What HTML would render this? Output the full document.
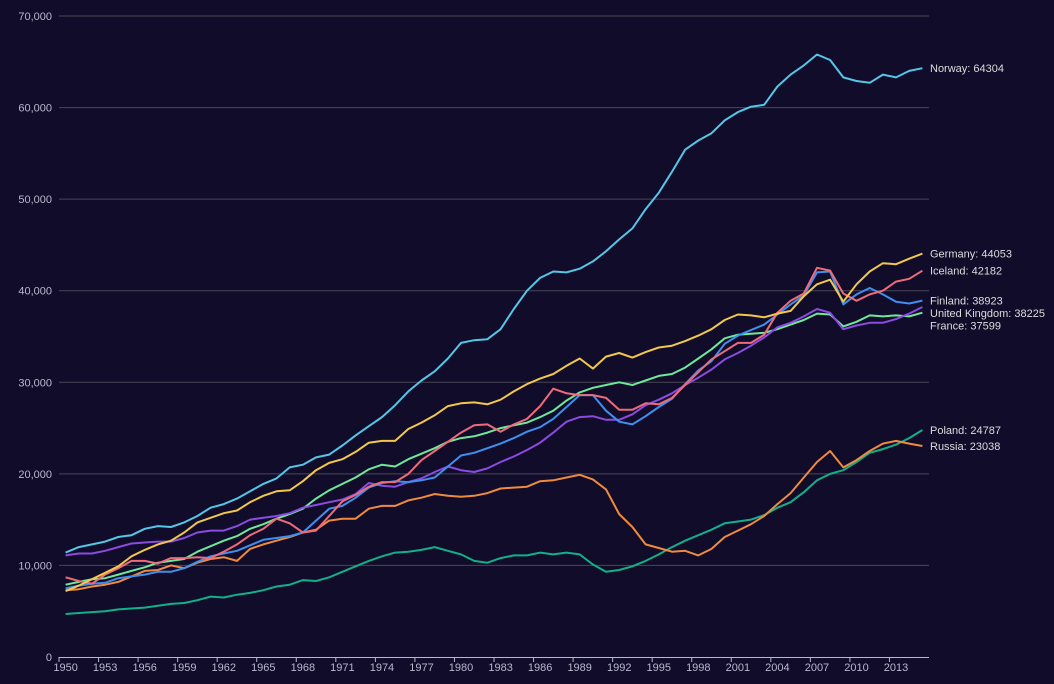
<!DOCTYPE html>
<html><head><meta charset="utf-8"><style>
html,body{margin:0;padding:0;background:#100c2a;}
svg{display:block;font-family:"Liberation Sans",sans-serif;}
</style></head><body>
<svg id="chart" width="1054" height="684" viewBox="0 0 1054 684">
<rect width="1054" height="684" fill="#100c2a"/>
<g id="grid"></g>
<g id="axes"></g>
<g id="series"></g>
<g id="labels"></g>
</svg>
<script>
const years = [];
for (let y = 1950; y <= 2015; y++) years.push(y);
const yTicks = [0,10000,20000,30000,40000,50000,60000,70000];
const norway = [11400,12000,12300,12600,13100,13300,14000,14300,14200,14700,15400,16300,16700,17300,18100,18900,19500,20700,21000,21800,22100,23100,24200,25200,26200,27500,29000,30200,31200,32600,34300,34600,34700,35800,38000,40000,41400,42100,42000,42400,43200,44300,45600,46800,48900,50700,53000,55400,56400,57200,58600,59500,60100,60300,62300,63600,64600,65800,65200,63300,62900,62700,63600,63300,64000,64304];
const germany = [7200,7800,8500,9200,9900,11000,11700,12300,12700,13600,14700,15200,15700,16000,16900,17600,18100,18200,19200,20400,21200,21600,22400,23400,23600,23600,24900,25600,26400,27400,27700,27800,27600,28100,29000,29800,30400,30900,31800,32600,31500,32800,33200,32700,33300,33800,34000,34500,35100,35800,36800,37400,37300,37100,37500,37800,39400,40700,41200,38800,40700,42100,43000,42900,43500,44053];
const iceland = [8700,8300,8000,9000,9700,10500,10500,10200,10800,10800,10900,10800,11500,12300,13300,14000,15100,14600,13600,13800,15400,17000,17700,18600,19100,19100,20000,21500,22500,23500,24500,25300,25400,24600,25400,26000,27400,29300,28800,28600,28600,28300,27000,27000,27700,27600,28300,29700,31100,32500,33400,34300,34300,35200,37600,38900,39700,42500,42200,39700,38900,39600,40000,41000,41300,42182];
const finland = [7500,7800,8000,8100,8600,8800,9000,9300,9300,9700,10400,11000,11300,11600,12200,12800,13000,13200,13600,14900,16200,16500,17400,18500,19000,19200,19100,19300,19600,20800,22000,22300,22800,23300,23900,24600,25100,26000,27300,28600,28600,26900,25700,25400,26300,27300,28200,29800,31300,32300,34200,35100,35700,36300,37400,38500,39500,42000,42100,38500,39600,40300,39600,38800,38600,38923];
const uk = [11100,11300,11300,11600,12000,12400,12500,12600,12600,13000,13600,13800,13800,14300,15000,15200,15400,15700,16300,16600,16900,17200,17800,19000,18700,18600,19100,19500,20200,20800,20400,20200,20600,21300,21900,22600,23400,24500,25700,26200,26300,25900,25900,26500,27500,28100,28800,29700,30500,31400,32500,33200,34000,34900,36000,36500,37200,38000,37600,35800,36200,36500,36500,36900,37500,38225];
const france = [7900,8200,8500,8600,9000,9400,9800,10300,10500,10700,11500,12100,12700,13200,14000,14500,15100,15600,16200,17300,18200,18900,19600,20500,21000,20800,21600,22200,22800,23500,23900,24100,24500,25000,25300,25600,26200,26900,28000,28900,29400,29700,30000,29700,30200,30700,30900,31600,32600,33600,34800,35200,35300,35400,35800,36300,36800,37500,37400,36100,36600,37300,37200,37300,37200,37599];
const russia = [7300,7400,7700,7900,8200,8800,9400,9500,10000,9700,10300,10700,10900,10500,11800,12300,12700,13100,13600,13900,14900,15100,15100,16200,16500,16500,17100,17400,17800,17600,17500,17600,17900,18400,18500,18600,19200,19300,19600,19900,19400,18300,15600,14200,12300,11900,11500,11600,11100,11800,13100,13800,14500,15400,16700,17900,19600,21300,22500,20700,21500,22500,23300,23600,23300,23038];
const poland = [4700,4800,4900,5000,5200,5300,5400,5600,5800,5900,6200,6600,6500,6800,7000,7300,7700,7900,8400,8300,8700,9300,9900,10500,11000,11400,11500,11700,12000,11600,11200,10500,10300,10800,11100,11100,11400,11200,11400,11200,10100,9300,9500,9900,10500,11200,12000,12700,13300,13900,14600,14800,15000,15500,16300,16900,18000,19300,20000,20400,21300,22300,22700,23200,23900,24787];
const seriesNames = ["Poland","Russia","France","United Kingdom","Finland","Iceland","Germany","Norway"];
const seriesData = [poland,russia,france,uk,finland,iceland,germany,norway];
const seriesColors = ["#12b08a","#f08a3c","#6ee89a","#8b4be0","#3f8ff0","#f06b7a","#f2c84b","#56c6e6"];

const NS="http://www.w3.org/2000/svg";
const L=59,R=929,T=16,B=657,maxV=70000;
const band=(R-L)/years.length;
const xs=i=>L+band*(i+0.5);
const ys=v=>B-(v/maxV)*(B-T);
function mk(tag,attrs,parent){const e=document.createElementNS(NS,tag);for(const k in attrs)e.setAttribute(k,attrs[k]);parent.appendChild(e);return e;}
const grid=document.getElementById('grid'),axes=document.getElementById('axes'),ser=document.getElementById('series'),lab=document.getElementById('labels');
yTicks.forEach(t=>{
  const y=ys(t);
  if(t>0){const g=mk('line',{x1:L,x2:R,y1:y,y2:y,stroke:'#484753','stroke-width':1},grid);
  
  }
  const tx=mk('text',{x:52,y:y+4,'text-anchor':'end','font-size':11,fill:'#b9b8ce'},axes);
  
  
  tx.textContent=t.toLocaleString('en-US');
});
const ax=mk('line',{x1:L,x2:R,y1:B+0.5,y2:B+0.5,stroke:'#b9b8ce','stroke-width':1},axes);


years.forEach((yr,i)=>{
  if(i%3===0){
    const tk=mk('line',{x1:L+band*i,x2:L+band*i,y1:B,y2:B+5,stroke:'#b9b8ce'},axes);
    
    
    const tx=mk('text',{x:xs(i),y:B+14,'text-anchor':'middle','font-size':11,fill:'#b9b8ce'},axes);
    
    
    tx.textContent=yr;
  }
});
const ends=[];
seriesData.forEach((d,s)=>{
  const p=d.map((v,i)=>(i?'L':'M')+xs(i).toFixed(1)+','+ys(v).toFixed(1)).join('');
  const path=mk('path',{d:p,fill:'none',stroke:seriesColors[s],'stroke-width':2,'stroke-linejoin':'round'},ser);
  
  
  ends.push({name:seriesNames[s],v:d[d.length-1],y:ys(d[d.length-1])});
});
ends.sort((a,b)=>a.y-b.y);
for(let i=1;i<ends.length;i++){if(ends[i].y-ends[i-1].y<12.5)ends[i].y=ends[i-1].y+12.5;}
ends.forEach(e=>{
  const tx=mk('text',{x:930,y:e.y+4,'font-size':11,fill:'#dcdcdc'},lab);
  
  
  tx.textContent=e.name+': '+e.v;
});
</script>
</body></html>
